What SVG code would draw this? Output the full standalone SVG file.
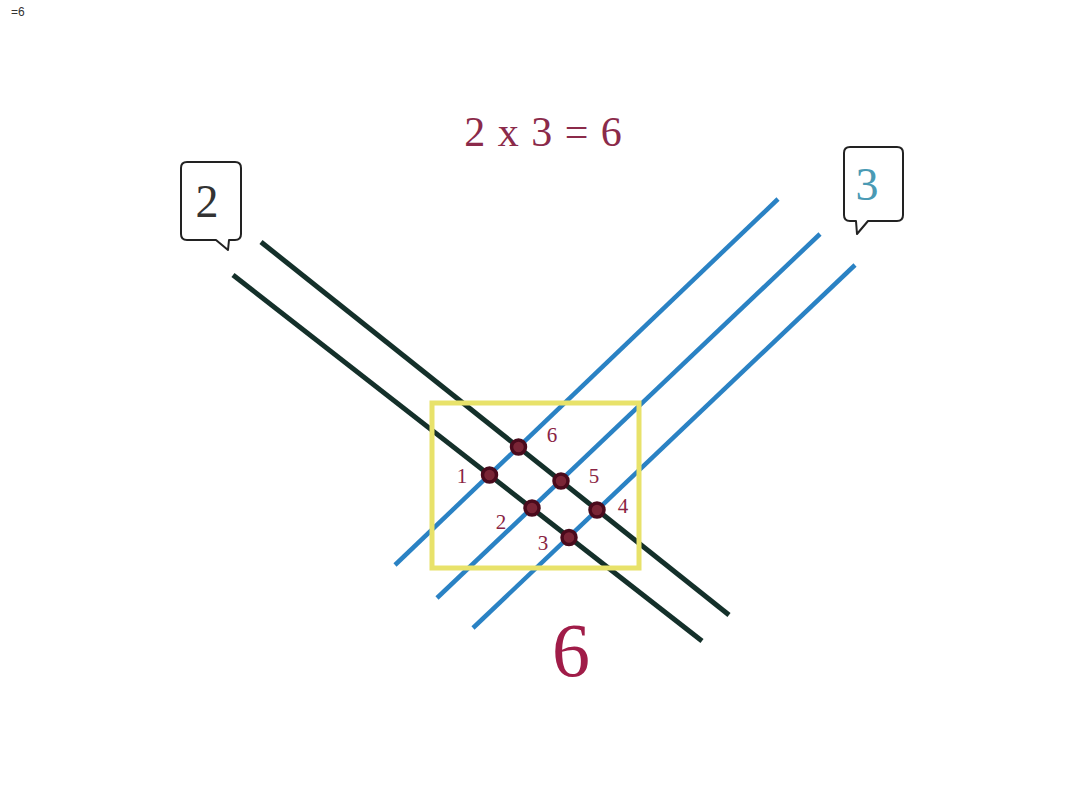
<svg xmlns="http://www.w3.org/2000/svg" width="1080" height="810" viewBox="0 0 1080 810">
<style>
.blk{stroke:#14302a;stroke-width:5;fill:none}
.blu{stroke:#2a82c4;stroke-width:4.5;fill:none}
.dot{fill:#7a2536;stroke:#4a0a1c;stroke-width:3.5}
.num{font-family:"Liberation Serif",serif;font-size:21px;fill:#8a2444;text-anchor:middle}
.bub{fill:#fff;stroke:#222;stroke-width:2;stroke-linejoin:round}
</style>
<rect width="1080" height="810" fill="#fff"/>
<text x="11" y="16" font-family="Liberation Sans,sans-serif" font-size="12" fill="#333">=6</text>
<text x="543" y="146" font-family="Liberation Serif,serif" font-size="42" fill="#8b2a4a" text-anchor="middle" word-spacing="2">2 x 3 = 6</text>
<g id="bubble2">
<path class="bub" d="M187,162 H235 Q241,162 241,168 V234 Q241,240 235,240 H229 L228,250 L216,240 H187 Q181,240 181,234 V168 Q181,162 187,162 Z"/>
<text x="207" y="217" font-family="Liberation Serif,serif" font-size="46" fill="#333" text-anchor="middle">2</text>
</g>
<g id="bubble3">
<path class="bub" d="M850,147 H897 Q903,147 903,153 V215 Q903,221 897,221 H868 L857,234 L856,221 H850 Q844,221 844,215 V153 Q844,147 850,147 Z"/>
<text x="867" y="200" font-family="Liberation Serif,serif" font-size="46" fill="#4a9ab4" text-anchor="middle">3</text>
</g>
<g id="connectors">
<line class="blk" x1="261" y1="242" x2="729" y2="615"/>
<line class="blk" x1="233" y1="275" x2="702" y2="641"/>
<line class="blu" x1="395" y1="565" x2="778" y2="199"/>
<line class="blu" x1="437" y1="598" x2="820" y2="234"/>
<line class="blu" x1="473" y1="628" x2="855" y2="265"/>
</g>
<rect id="box" x="432" y="403" width="207" height="165" fill="none" stroke="#e8e26a" stroke-width="5"/>
<g id="points">
<circle class="dot" cx="518.5" cy="447" r="7"/>
<circle class="dot" cx="489.5" cy="475" r="7"/>
<circle class="dot" cx="561" cy="481" r="7"/>
<circle class="dot" cx="532" cy="508" r="7"/>
<circle class="dot" cx="597" cy="510" r="7"/>
<circle class="dot" cx="569" cy="537.5" r="7"/>
</g>
<g id="labels">
<text class="num" x="552" y="442">6</text>
<text class="num" x="462" y="483">1</text>
<text class="num" x="594" y="483">5</text>
<text class="num" x="501" y="529">2</text>
<text class="num" x="623" y="513">4</text>
<text class="num" x="543" y="550">3</text>
</g>
<text x="571" y="676" font-family="Liberation Serif,serif" font-size="76" fill="#a01c48" text-anchor="middle">6</text>
</svg>
